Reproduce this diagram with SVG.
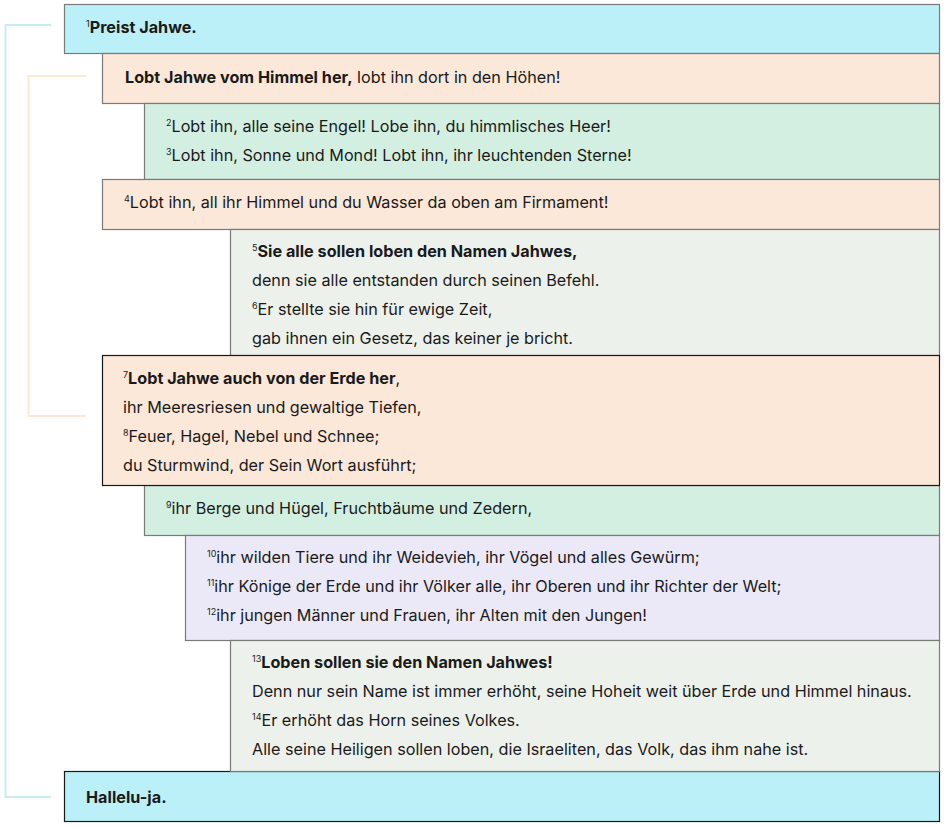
<svg xmlns="http://www.w3.org/2000/svg" width="945" height="827" viewBox="0 0 945 827">
<style>
text{font-family:Inter,"Noto Sans","Liberation Sans",sans-serif;font-size:16.2px;fill:#1a1a1a}
.b{font-weight:bold}
.s{font-size:9px}
.box{stroke:#7a7a7a;stroke-width:1.2}
.dark{stroke:#1a1a1a}
.cy{fill:#bcf0f8}.or{fill:#fbe8d8}.gr{fill:#d3efe2}.gy{fill:#edf1ec}.lv{fill:#ebe9f8}
.br{fill:none;stroke-width:2}
</style>
<g id="connectors">
<polyline class="br" stroke="#c9ecf3" points="51,25 5.5,25 5.5,797 51,797"/>
<polyline class="br" stroke="#fde8d5" points="86,76 28.5,76 28.5,416 86,416"/>
</g>
<g id="n10"><rect class="box dark cy" x="64.5" y="771.5" width="875" height="50"/>
<text x="86" y="803" class="b">Hallelu-ja.</text></g>
<g id="n1"><rect class="box cy" x="64.5" y="4.5" width="875" height="49"/>
<text x="86" y="33"><tspan class="s" dy="-6">1</tspan><tspan class="b" dy="6">Preist Jahwe.</tspan></text></g>
<g id="n2"><rect class="box or" x="102.5" y="53.5" width="837" height="50"/>
<text x="125" y="83"><tspan class="b">Lobt Jahwe vom Himmel her,</tspan> lobt ihn dort in den Höhen!</text></g>
<g id="n3"><rect class="box gr" x="144.5" y="103.5" width="795" height="76"/>
<text x="166" y="132"><tspan class="s" dy="-6">2</tspan><tspan dy="6">Lobt ihn, alle seine Engel! Lobe ihn, du himmlisches Heer!</tspan></text>
<text x="166" y="161"><tspan class="s" dy="-6">3</tspan><tspan dy="6">Lobt ihn, Sonne und Mond! Lobt ihn, ihr leuchtenden Sterne!</tspan></text></g>
<g id="n4"><rect class="box or" x="102.5" y="179.5" width="837" height="50"/>
<text x="124" y="208"><tspan class="s" dy="-6">4</tspan><tspan dy="6">Lobt ihn, all ihr Himmel und du Wasser da oben am Firmament!</tspan></text></g>
<g id="n5"><rect class="box gy" x="230.5" y="229.5" width="709" height="126"/>
<text x="252" y="257"><tspan class="s" dy="-6">5</tspan><tspan class="b" dy="6">Sie alle sollen loben den Namen Jahwes,</tspan></text>
<text x="252" y="286">denn sie alle entstanden durch seinen Befehl.</text>
<text x="252" y="315"><tspan class="s" dy="-6">6</tspan><tspan dy="6">Er stellte sie hin für ewige Zeit,</tspan></text>
<text x="252" y="344">gab ihnen ein Gesetz, das keiner je bricht.</text></g>
<g id="n7"><rect class="box gr" x="144.5" y="485.5" width="795" height="50"/>
<text x="166" y="514"><tspan class="s" dy="-6">9</tspan><tspan dy="6">ihr Berge und Hügel, Fruchtbäume und Zedern,</tspan></text></g>
<g id="n6"><rect class="box dark or" x="102.5" y="355.5" width="837" height="130"/>
<text x="123" y="384"><tspan class="s" dy="-6">7</tspan><tspan class="b" dy="6">Lobt Jahwe auch von der Erde her</tspan>,</text>
<text x="123" y="413">ihr Meeresriesen und gewaltige Tiefen,</text>
<text x="123" y="442"><tspan class="s" dy="-6">8</tspan><tspan dy="6">Feuer, Hagel, Nebel und Schnee;</tspan></text>
<text x="123" y="471">du Sturmwind, der Sein Wort ausführt;</text></g>
<g id="n8"><rect class="box lv" x="185.5" y="535.5" width="754" height="105"/>
<text x="207" y="563"><tspan class="s" dy="-6">10</tspan><tspan dy="6">ihr wilden Tiere und ihr Weidevieh, ihr Vögel und alles Gewürm;</tspan></text>
<text x="207" y="592"><tspan class="s" dy="-6">11</tspan><tspan dy="6">ihr Könige der Erde und ihr Völker alle, ihr Oberen und ihr Richter der Welt;</tspan></text>
<text x="207" y="621"><tspan class="s" dy="-6">12</tspan><tspan dy="6">ihr jungen Männer und Frauen, ihr Alten mit den Jungen!</tspan></text></g>
<g id="n9"><rect class="box gy" x="230.5" y="640.5" width="709" height="131"/>
<text x="252" y="668"><tspan class="s" dy="-6">13</tspan><tspan class="b" dy="6">Loben sollen sie den Namen Jahwes!</tspan></text>
<text x="252" y="697">Denn nur sein Name ist immer erhöht, seine Hoheit weit über Erde und Himmel hinaus.</text>
<text x="252" y="726"><tspan class="s" dy="-6">14</tspan><tspan dy="6">Er erhöht das Horn seines Volkes.</tspan></text>
<text x="252" y="755">Alle seine Heiligen sollen loben, die Israeliten, das Volk, das ihm nahe ist.</text></g>
</svg>
